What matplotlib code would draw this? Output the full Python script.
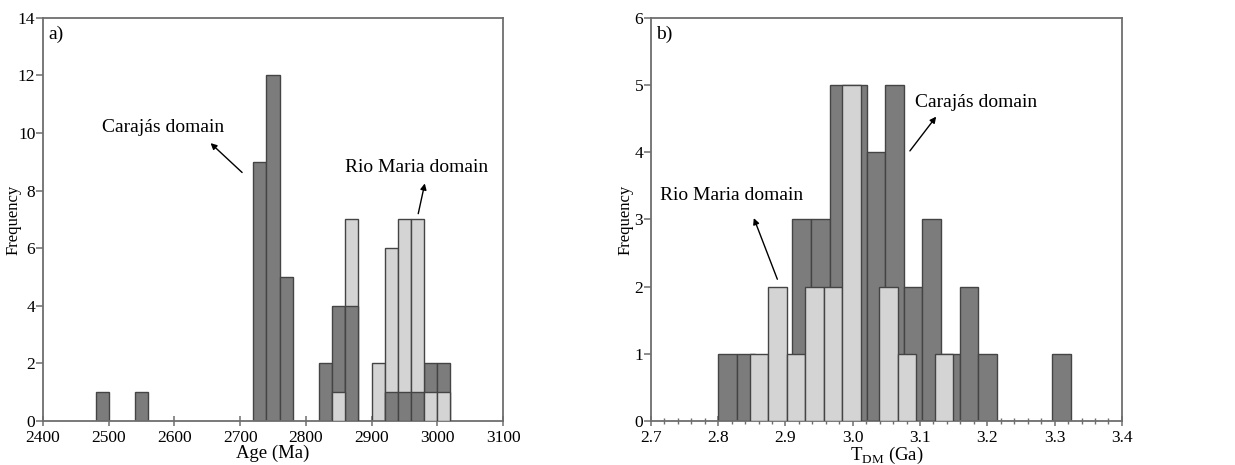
import matplotlib
matplotlib.use('Agg')

import matplotlib.pyplot as plt
from matplotlib.ticker import MultipleLocator

plt.rcParams['font.family'] = ['Liberation Serif', 'DejaVu Serif']
plt.rcParams['mathtext.fontset'] = 'custom'
plt.rcParams['mathtext.rm'] = 'Liberation Serif'

DARK = '#7c7c7c'
LIGHT = '#d4d4d4'
EDGE = '#444444'
AXIS = '#6e6e6e'

# a) U-Pb ages, 20 Ma bins given by their left edge
age_left_carajas = [2480, 2540, 2720, 2740, 2760, 2820, 2840, 2860, 2920, 2940, 2960, 2980, 3000]
age_count_carajas = [1, 1, 9, 12, 5, 2, 4, 4, 1, 1, 1, 2, 2]
age_left_riomaria = [2840, 2860, 2900, 2920, 2940, 2960, 2980, 3000]
age_count_riomaria = [1, 7, 2, 6, 7, 7, 1, 1]
age_bin = 20

# b) Nd model ages, consecutive bins from a start value
tdm_start_carajas = 2.800
tdm_bin_carajas = 0.0276
tdm_count_carajas = [1, 1, 0, 0, 3, 3, 5, 5, 4, 5, 2, 3, 1, 2, 1, 0, 0, 0, 1]
tdm_start_riomaria = 2.847
tdm_bin_riomaria = 0.0275
tdm_count_riomaria = [1, 2, 1, 2, 2, 5, 0, 2, 1, 0, 1]

TICK_FS = 12.5
NOTE_FS = 14


def style_axes(ax):
    for s in ax.spines.values():
        s.set_color(AXIS)
        s.set_linewidth(1.3)
    ax.tick_params(axis='x', direction='inout', length=7, width=1.1, color=AXIS,
                   labelsize=TICK_FS, pad=3)
    ax.tick_params(axis='y', direction='out', length=5, width=1.1, color=AXIS,
                   labelsize=TICK_FS, pad=0.5)


fig = plt.figure(figsize=(12.35, 4.65), dpi=100)

# ---- a) ----
ax1 = fig.add_axes([0.0348, 0.0946, 0.3725, 0.867])
bars_c = ax1.bar(age_left_carajas, age_count_carajas, age_bin, align='edge',
                 color=DARK, edgecolor=EDGE, linewidth=1, zorder=2)
bars_r = ax1.bar(age_left_riomaria, age_count_riomaria, age_bin, align='edge',
                 color=LIGHT, edgecolor=EDGE, linewidth=1, zorder=2)
# in a shared bin the shorter bar sits in front
cc = dict(zip(age_left_carajas, age_count_carajas))
cr = dict(zip(age_left_riomaria, age_count_riomaria))
for x, p in zip(age_left_carajas, bars_c.patches):
    if cc[x] < cr.get(x, 0):
        p.set_zorder(3)
for x, p in zip(age_left_riomaria, bars_r.patches):
    if cr[x] < cc.get(x, 0):
        p.set_zorder(3)

ax1.set_xlim(2400, 3100)
ax1.set_ylim(0, 14)
ax1.xaxis.set_major_locator(MultipleLocator(100))
ax1.yaxis.set_major_locator(MultipleLocator(2))
style_axes(ax1)
ax1.set_xlabel('Age (Ma)', fontsize=13.5, labelpad=-1)
ax1.set_ylabel('Frequency', fontsize=12)
ax1.yaxis.set_label_coords(-0.047, 0.5)
ax1.text(0.012, 0.98, 'a)', transform=ax1.transAxes, fontsize=NOTE_FS, ha='left', va='top')

arrow = dict(arrowstyle='-|>', color='black', lw=1, mutation_scale=9, shrinkA=0, shrinkB=0)
ax1.text(2583, 10.2, 'Carajás domain', fontsize=NOTE_FS, ha='center', va='center')
ax1.annotate('', xy=(2655, 9.65), xytext=(2703, 8.63), arrowprops=arrow)
ax1.text(2968, 8.8, 'Rio Maria domain', fontsize=NOTE_FS, ha='center', va='center')
ax1.annotate('', xy=(2981, 8.25), xytext=(2971, 7.2), arrowprops=arrow)

# ---- b) ----
ax2 = fig.add_axes([0.527, 0.0946, 0.3814, 0.867])
left_c = [tdm_start_carajas + i * tdm_bin_carajas for i in range(len(tdm_count_carajas))]
left_r = [tdm_start_riomaria + i * tdm_bin_riomaria for i in range(len(tdm_count_riomaria))]
ax2.bar(left_c, tdm_count_carajas, tdm_bin_carajas, align='edge',
        color=DARK, edgecolor=EDGE, linewidth=1, zorder=2)
ax2.bar(left_r, tdm_count_riomaria, tdm_bin_riomaria, align='edge',
        color=LIGHT, edgecolor=EDGE, linewidth=1, zorder=3)

ax2.set_xlim(2.7, 3.4)
ax2.set_ylim(0, 6)
ax2.xaxis.set_major_locator(MultipleLocator(0.1))
ax2.xaxis.set_minor_locator(MultipleLocator(0.02))
ax2.yaxis.set_major_locator(MultipleLocator(1))
ax2.xaxis.set_major_formatter(plt.FormatStrFormatter('%.1f'))
style_axes(ax2)
ax2.tick_params(axis='x', which='minor', direction='inout', length=4, width=1, color=AXIS)
ax2.set_xlabel(r'T$_{\mathregular{DM}}$ (Ga)', fontsize=13.5, labelpad=-1)
ax2.set_ylabel('Frequency', fontsize=12)
ax2.yaxis.set_label_coords(-0.036, 0.5)
ax2.text(0.012, 0.98, 'b)', transform=ax2.transAxes, fontsize=NOTE_FS, ha='left', va='top')

ax2.text(3.184, 4.74, 'Carajás domain', fontsize=NOTE_FS, ha='center', va='center')
ax2.annotate('', xy=(3.124, 4.53), xytext=(3.085, 4.02), arrowprops=arrow)
ax2.text(2.82, 3.35, 'Rio Maria domain', fontsize=NOTE_FS, ha='center', va='center')
ax2.annotate('', xy=(2.853, 3.02), xytext=(2.888, 2.11), arrowprops=arrow)

fig.savefig('out.png', dpi=100)
plt.close(fig)
